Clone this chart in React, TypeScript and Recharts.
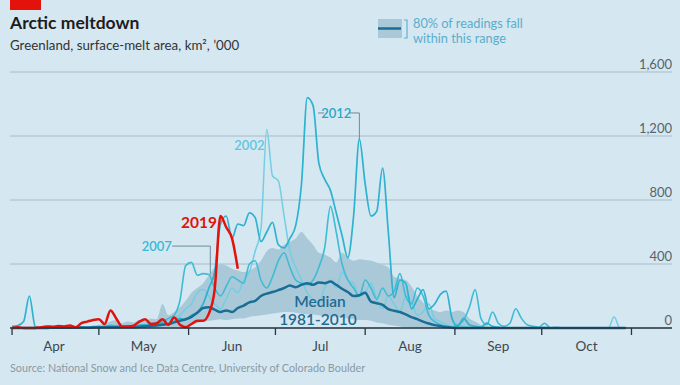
import { ComposedChart, Line, Area, XAxis, YAxis, CartesianGrid, ReferenceLine, ReferenceDot } from "recharts"

// days since April 1st, sampled every second day
const days = [
  0, 2, 4, 6, 8, 10, 12, 14, 16, 18,
  20, 22, 24, 26, 28, 30, 32, 34, 36, 38,
  40, 42, 44, 46, 48, 50, 52, 54, 56, 58,
  60, 62, 64, 66, 68, 70, 72, 74, 76, 78,
  80, 82, 84, 86, 88, 90, 92, 94, 96, 98,
  100, 102, 104, 106, 108, 110, 112, 114, 116, 118,
  120, 122, 124, 126, 128, 130, 132, 134, 136, 138,
  140, 142, 144, 146, 148, 150, 152, 154, 156, 158,
  160, 162, 164, 166, 168, 170, 172, 174, 176, 178,
  180, 182, 184, 186, 188, 190, 192, 194, 196, 198,
  200, 202, 204, 206, 208, 210, 212,
]

// surface-melt area, km2 '000
const y2019 = [
  0, 5, 0, 0, 0, 5, 10, 8, 12, 10,
  15, 5, 30, 40, 50, 55, 25, 110, 60, 10,
  10, 15, 40, 55, 25, 30, 55, 20, 65, 20,
  5, 25, 45, 45, 90, 240, 700, 630, 560, 370,
]

const y2012 = [
  10, 15, 40, 200, 10, 0, 0, 0, 5, 0,
  0, 0, 5, 0, 0, 5, 10, 15, 10, 5,
  10, 5, 15, 20, 15, 25, 30, 20, 40, 60,
  50, 80, 100, 150, 250, 350, 650, 700, 560, 650,
  640, 720, 690, 540, 600, 660, 520, 500, 560, 640,
  900, 1440, 1390, 1030, 930, 860, 720, 580, 440, 700,
  1180, 900, 700, 730, 1000, 600, 190, 300, 280, 120,
  180, 240, 120, 150, 210, 230, 60, 10, 60, 20,
  10, 5, 30, 10, 5, 0, 0, 0, 0, 0,
  0, 0, 0, 0, 0, 0, 0, 0, 0, 0,
  0, 0, 0, 0, 0, 0, 0,
]

const y2007 = [
  0, 0, 0, 0, 0, 0, 0, 0, 0, 0,
  0, 0, 0, 0, 5, 10, 5, 10, 15, 10,
  15, 10, 20, 15, 20, 20, 40, 60, 80, 170,
  390, 410, 330, 340, 335, 250, 200, 260, 320, 300,
  280, 400, 420, 300, 250, 320, 420, 470, 380, 300,
  280, 270, 300, 380, 500, 760, 600, 400, 300, 250,
  200, 300, 250, 180, 250, 200, 230, 340, 200, 150,
  250, 200, 80, 40, 20, 10, 5, 20, 50, 130,
  240, 60, 20, 100, 30, 10, 30, 120, 60, 20,
  10, 5, 30, 0, 5, 0, 0, 0, 0, 0,
  0, 0, 0, 0, 0, 0, 0,
]

const y2002 = [
  0, 0, 0, 0, 0, 0, 0, 0, 0, 0,
  0, 0, 0, 5, 10, 5, 10, 20, 10, 5,
  10, 15, 10, 20, 30, 25, 40, 50, 60, 80,
  120, 150, 220, 240, 200, 150, 120, 180, 250, 220,
  300, 350, 480, 620, 1240, 950, 920, 700, 480, 380,
  300, 220, 180, 150, 250, 300, 250, 350, 300, 280,
  200, 220, 280, 180, 120, 200, 150, 100, 200, 160,
  80, 100, 150, 60, 40, 20, 10, 20, 10, 5,
  5, 0, 0, 0, 0, 0, 0, 0, 0, 0,
  0, 0, 5, 0, 0, 0, 0, 0, 0, 0,
  0, 0, 0, 0, 70, 0, 0,
]

const median = [
  0, 0, 0, 0, 0, 0, 0, 2, 2, 2,
  2, 3, 3, 3, 4, 4, 5, 5, 5, 5,
  5, 5, 8, 10, 12, 15, 20, 25, 35, 45,
  55, 70, 95, 125, 130, 115, 100, 110, 100, 125,
  140, 160, 170, 200, 215, 225, 237, 250, 265, 255,
  270, 280, 270, 285, 280, 290, 270, 245, 225, 200,
  205, 220, 165, 155, 145, 118, 108, 100, 85, 68,
  55, 40, 28, 18, 12, 6, 2, 0, 0, 0,
  0, 0, 0, 0, 0, 0, 0, 0, 0, 0,
  0, 0, 0, 0, 0, 0, 0, 0, 0, 0,
  0, 0, 0, 0, 0, 0, 0,
]

// 80% range, 1981-2010
const bandHigh = [
  0, 0, 0, 0, 0, 5, 5, 5, 5, 5,
  5, 5, 10, 10, 15, 20, 25, 40, 50, 30,
  40, 35, 50, 45, 60, 55, 150, 80, 100, 130,
  170, 220, 250, 280, 330, 380, 400, 390, 370, 360,
  350, 360, 380, 420, 480, 500, 490, 520, 540, 560,
  600, 560, 520, 470, 460, 440, 410, 470, 440, 420,
  430, 425, 420, 410, 395, 380, 320, 310, 300, 260,
  200, 160, 120, 110, 100, 110, 100, 110, 100, 60,
  40, 20, 10, 5, 0, 0, 0, 0, 0, 0,
  0, 0, 0, 0, 0, 0, 0, 0, 0, 0,
  0, 0, 0, 0, 0, 0, 0,
]

const bandLow = [
  0, 0, 0, 0, 0, 0, 0, 0, 0, 0,
  0, 0, 0, 0, 0, 0, 0, 0, 0, 0,
  0, 0, 0, 0, 0, 0, 0, 0, 0, 0,
  10, 20, 30, 40, 45, 50, 55, 50, 55, 60,
  60, 70, 75, 80, 85, 90, 95, 100, 100, 95,
  90, 85, 85, 80, 75, 70, 70, 65, 60, 55,
  50, 50, 45, 35, 30, 20, 15, 10, 5, 0,
  0, 0, 0, 0, 0, 0, 0, 0, 0, 0,
  0, 0, 0, 0, 0, 0, 0, 0, 0, 0,
  0, 0, 0, 0, 0, 0, 0, 0, 0, 0,
  0, 0, 0, 0, 0, 0, 0,
]

const monthStarts = [0, 30, 61, 91, 122, 153, 183, 214]
const monthMids = [14.5, 45.5, 76, 106.5, 137.5, 168, 198.5]
const monthLabels = ["Apr", "May", "Jun", "Jul", "Aug", "Sep", "Oct"]
const yTicks = [0, 400, 800, 1200, 1600]

const data = days.map((d, i) => ({
  day: d,
  y2019: i < y2019.length ? y2019[i] : null,
  y2012: y2012[i],
  y2007: y2007[i],
  y2002: y2002[i],
  median: median[i],
  band: [bandLow[i], bandHigh[i]],
}))

const FONT = "Lato, 'Noto Sans', sans-serif"
const AXIS = "#27363f"
const LEADER = "#6d8c9e"

function MonthTick(props: any) {
  const { x, y, payload } = props
  const idx = monthMids.indexOf(payload.value)
  if (idx >= 0) {
    return (
      <text x={x} y={y + 23} textAnchor="middle" fill="#3b4850" fontSize={13.5} fontFamily={FONT}>
        {monthLabels[idx]}
      </text>
    )
  }
  return <line x1={x} x2={x} y1={y} y2={y + 7} stroke={AXIS} strokeWidth={1.3} />
}

function ValueTick(props: any) {
  const { x, y, payload } = props
  return (
    <text x={x} y={y - 3} textAnchor="end" fill="#58636a" fontSize={13} fontFamily={FONT}>
      {payload.value.toLocaleString("en-US")}
    </text>
  )
}

function yearLabel(text: string, color: string, size = 13, weight = 600) {
  return { value: text, position: "center" as const, fill: color, fontSize: size, fontWeight: weight, fontFamily: FONT }
}

export default function App() {
  return (
    <div
      style={{
        position: "fixed",
        left: 0,
        top: 0,
        width: 680,
        height: 385,
        background: "#d5e7f1",
        fontFamily: FONT,
        overflow: "hidden",
      }}
    >
      <div style={{ position: "absolute", left: 10, top: 0, width: 31, height: 10, background: "#e3120b" }} />
      <div style={{ position: "absolute", left: 10, top: 13, fontSize: 17.5, fontWeight: 700, color: "#1c1c1c", lineHeight: "20px" }}>
        Arctic meltdown
      </div>
      <div
        style={{
          position: "absolute",
          left: 10,
          top: 36,
          fontSize: 14,
          color: "#333",
          lineHeight: "18px",
          whiteSpace: "nowrap",
          transform: "scaleX(0.95)",
          transformOrigin: "left",
        }}
      >
        Greenland, surface-melt area, km², ’000
      </div>

      {/* legend */}
      <svg style={{ position: "absolute", left: 376, top: 16 }} width={36} height={26}>
        <rect x={2} y={3} width={24} height={19} fill="#a9c9d9" />
        <line x1={2} x2={25} y1={12.5} y2={12.5} stroke="#1a6d94" strokeWidth={2.5} />
        <polyline points="28,4 31,4 31,22 28,22" fill="none" stroke="#5fb2ce" strokeWidth={1.2} />
      </svg>
      <div
        style={{
          position: "absolute",
          left: 413,
          top: 16,
          fontSize: 13,
          lineHeight: "15px",
          color: "#5aaecb",
          whiteSpace: "nowrap",
          transform: "scaleX(0.98)",
          transformOrigin: "left",
        }}
      >
        <div>80% of readings fall</div>
        <div>within this range</div>
      </div>

      <div style={{ position: "absolute", left: 0, top: 0 }}>
        <ComposedChart width={680} height={385} data={data} margin={{ top: 72, right: 7, bottom: 27, left: 10 }}>
          <CartesianGrid vertical={false} stroke="#a8bac5" strokeWidth={1} />
          <XAxis
            dataKey="day"
            type="number"
            domain={[-0.7, 228]}
            ticks={[...monthStarts, ...monthMids].sort((a, b) => a - b)}
            interval={0}
            tick={<MonthTick />}
            tickLine={false}
            tickSize={0}
            tickMargin={0}
            height={30}
            axisLine={{ stroke: AXIS, strokeWidth: 1.3 }}
          />
          <YAxis
            orientation="right"
            type="number"
            domain={[0, 1600]}
            ticks={yTicks}
            interval={0}
            width={1}
            tick={<ValueTick />}
            tickLine={false}
            tickSize={0}
            tickMargin={0}
            axisLine={false}
          />
          <Area type="monotone" dataKey="band" stroke="none" fill="#a9c9d9" fillOpacity={1} isAnimationActive={false} />
          <Line type="monotone" dataKey="y2002" stroke="#74cde2" strokeWidth={1.5} dot={false} isAnimationActive={false} />
          <Line type="monotone" dataKey="y2007" stroke="#3fbbd5" strokeWidth={1.6} dot={false} isAnimationActive={false} />
          <Line type="monotone" dataKey="y2012" stroke="#2db2cf" strokeWidth={1.7} dot={false} isAnimationActive={false} />
          <Line type="monotone" dataKey="median" stroke="#1a6d94" strokeWidth={2.5} dot={false} isAnimationActive={false} />
          <Line type="monotone" dataKey="y2019" stroke="#e3120b" strokeWidth={2.5} dot={false} isAnimationActive={false} />

          {/* annotations */}
          <ReferenceLine segment={[{ x: 105.7, y: 1344 }, { x: 107.8, y: 1344 }]} stroke={LEADER} strokeWidth={1} />
          <ReferenceLine segment={[{ x: 116.4, y: 1344 }, { x: 120, y: 1344 }]} stroke={LEADER} strokeWidth={1} />
          <ReferenceLine segment={[{ x: 120, y: 1344 }, { x: 120, y: 1180 }]} stroke={LEADER} strokeWidth={1} />
          <ReferenceDot x={112} y={1344} r={0} stroke="none" label={yearLabel("2012", "#26a8c6")} />
          <ReferenceDot x={82} y={1144} r={0} stroke="none" label={yearLabel("2002", "#5ec6df")} />
          <ReferenceLine segment={[{ x: 55.3, y: 512 }, { x: 68.5, y: 512 }]} stroke={LEADER} strokeWidth={1} />
          <ReferenceLine segment={[{ x: 68.5, y: 512 }, { x: 68.5, y: 335 }]} stroke={LEADER} strokeWidth={1} />
          <ReferenceDot x={50} y={512} r={0} stroke="none" label={yearLabel("2007", "#3ab8d3")} />
          <ReferenceDot x={64.6} y={662} r={0} stroke="none" label={yearLabel("2019", "#e3120b", 15.5, 700)} />
          <ReferenceDot x={106.4} y={165} r={0} stroke="none" label={yearLabel("Median", "#1e6b92", 15.5, 600)} />
          <ReferenceDot x={105.7} y={52} r={0} stroke="none" label={yearLabel("1981-2010", "#1e6b92", 15.5, 600)} />
        </ComposedChart>
      </div>

      <div
        style={{
          position: "absolute",
          left: 10,
          top: 361,
          fontSize: 12,
          color: "#8a9aa4",
          whiteSpace: "nowrap",
          lineHeight: "14px",
          transform: "scaleX(0.9)",
          transformOrigin: "left",
        }}
      >
        Source: National Snow and Ice Data Centre, University of Colorado Boulder
      </div>
    </div>
  )
}
